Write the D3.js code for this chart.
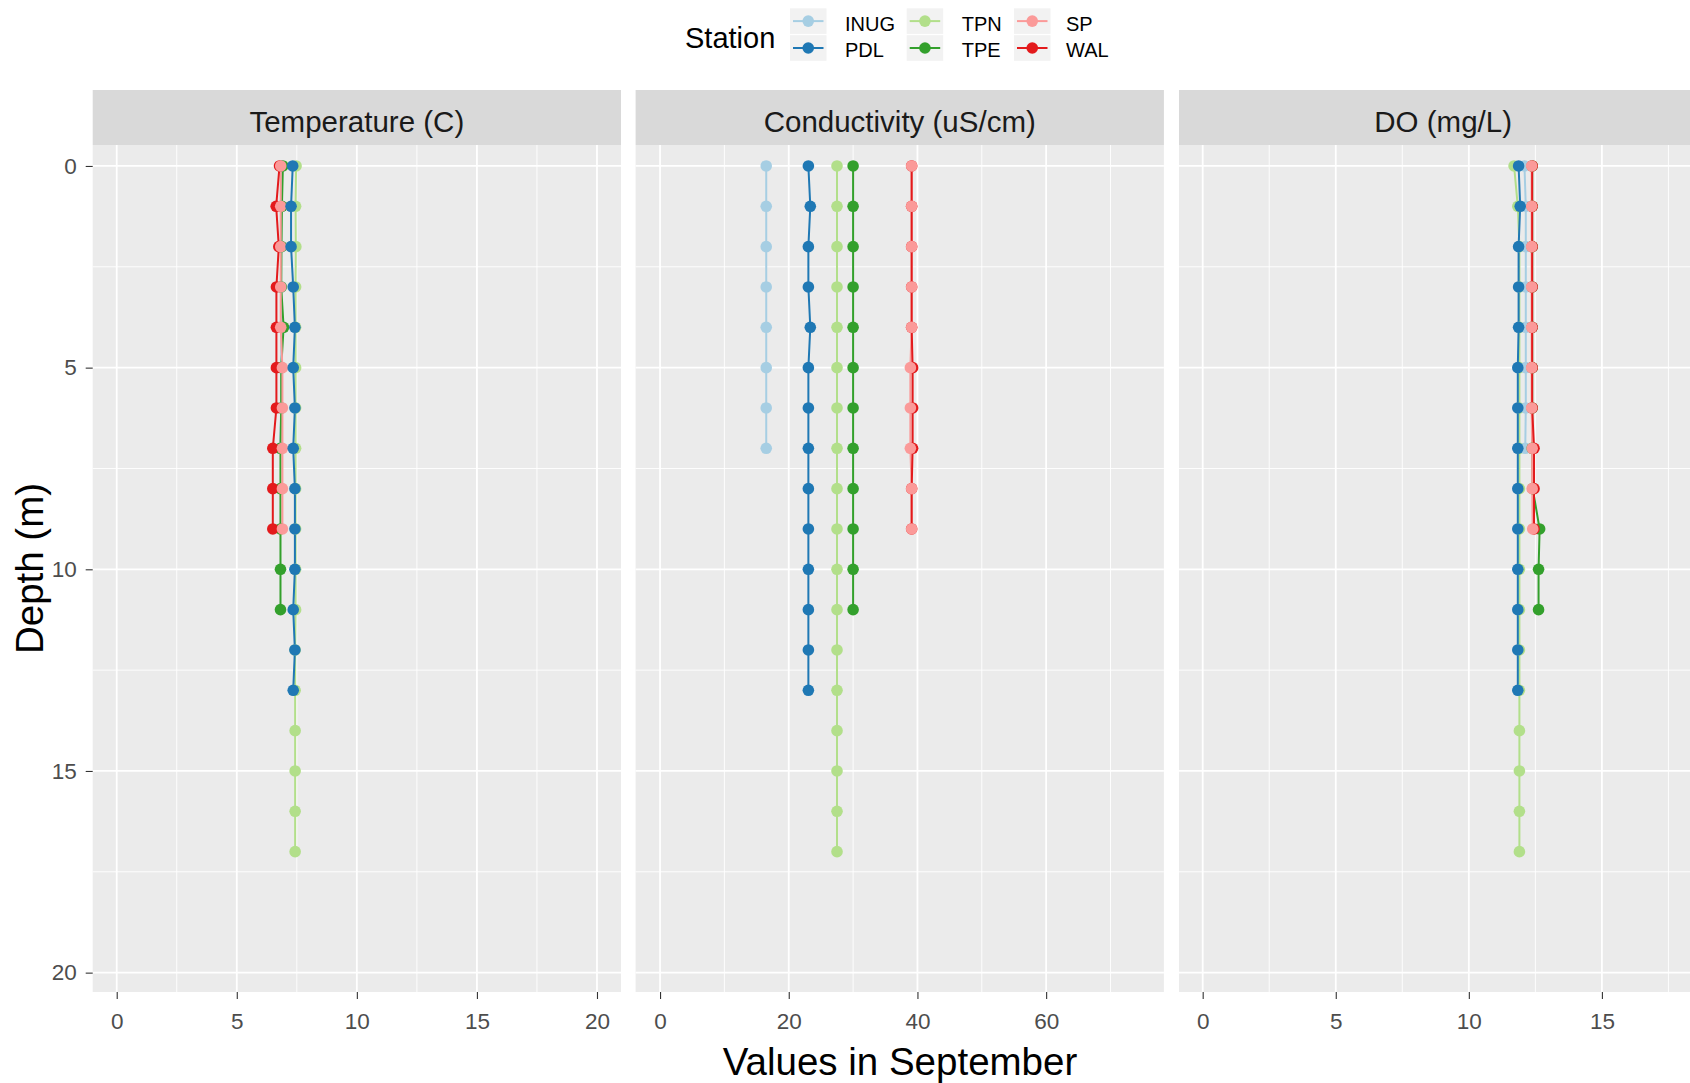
<!DOCTYPE html>
<html>
<head>
<meta charset="utf-8">
<title>Depth profiles - September</title>
<script src="https://d3js.org/d3.v7.min.js"></script>
<style>
  body { margin: 0; background: #fff; }
  text { font-family: "Liberation Sans", Arial, sans-serif; }
</style>
</head>
<body>
<svg id="chart" width="1690" height="1083"></svg>
<script>
// stations in legend order, with the Paired palette
var stations = ["INUG", "PDL", "TPN", "TPE", "SP", "WAL"];
var stationColors = ["#a6cee3", "#1f78b4", "#b2df8a", "#33a02c", "#fb9a99", "#e31a1c"];
var variables = ["Temperature (C)", "Conductivity (uS/cm)", "DO (mg/L)"];

// sampled depths (m) per station
var depthINUG = [0, 1, 2, 3, 4, 5, 6, 7];
var depthPDL  = [0, 1, 2, 3, 4, 5, 6, 7, 8, 9, 10, 11, 12, 13];
var depthTPN  = [0, 1, 2, 3, 4, 5, 6, 7, 8, 9, 10, 11, 12, 13, 14, 15, 16, 17];
var depthTPE  = [0, 1, 2, 3, 4, 5, 6, 7, 8, 9, 10, 11];
var depthSP   = [0, 1, 2, 3, 4, 5, 6, 7, 8, 9];
var depthWAL  = [0, 1, 2, 3, 4, 5, 6, 7, 8, 9];

// temperature (C)
var tempINUG = [6.85, 6.85, 6.85, 6.85, 6.85, 6.85, 6.85, 6.80];
var tempPDL  = [7.33, 7.26, 7.26, 7.35, 7.42, 7.35, 7.42, 7.35, 7.42, 7.42, 7.42, 7.35, 7.42, 7.35];
var tempTPN  = [7.47, 7.45, 7.46, 7.45, 7.45, 7.45, 7.45, 7.45, 7.45, 7.45, 7.45, 7.45, 7.43, 7.43, 7.43, 7.43, 7.43, 7.43];
var tempTPE  = [6.92, 6.88, 6.86, 6.85, 6.95, 6.85, 6.85, 6.82, 6.82, 6.82, 6.82, 6.82];
var tempSP   = [6.83, 6.83, 6.83, 6.83, 6.83, 6.90, 6.90, 6.90, 6.90, 6.90];
var tempWAL  = [6.78, 6.64, 6.75, 6.65, 6.65, 6.65, 6.65, 6.50, 6.50, 6.50];

// conductivity (uS/cm)
var condINUG = [16.5, 16.5, 16.5, 16.5, 16.5, 16.5, 16.5, 16.5];
var condPDL  = [23.05, 23.35, 23.05, 23.05, 23.35, 23.05, 23.05, 23.05, 23.05, 23.05, 23.05, 23.05, 23.05, 23.05];
var condTPN  = [27.5, 27.5, 27.5, 27.5, 27.5, 27.5, 27.5, 27.5, 27.5, 27.5, 27.5, 27.5, 27.5, 27.5, 27.5, 27.5, 27.5, 27.5];
var condTPE  = [30.0, 30.0, 30.0, 30.0, 30.0, 30.0, 30.0, 30.0, 30.0, 30.0, 30.0, 30.0];
var condSP   = [39.1, 39.1, 39.1, 39.1, 39.1, 38.9, 38.9, 38.9, 39.1, 39.1];
var condWAL  = [39.1, 39.1, 39.1, 39.1, 39.1, 39.25, 39.25, 39.25, 39.1, 39.1];

// dissolved oxygen (mg/L)
var doINUG = [12.09, 12.14, 12.14, 12.14, 12.14, 12.14, 12.14, 12.12];
var doPDL  = [11.87, 11.93, 11.87, 11.87, 11.87, 11.84, 11.84, 11.84, 11.84, 11.84, 11.84, 11.84, 11.84, 11.84];
var doTPN  = [11.70, 11.84, 11.90, 11.90, 11.90, 11.90, 11.90, 11.90, 11.90, 11.90, 11.90, 11.90, 11.90, 11.90, 11.90, 11.90, 11.90, 11.90];
var doTPE  = [12.38, 12.38, 12.38, 12.38, 12.38, 12.38, 12.38, 12.38, 12.40, 12.66, 12.62, 12.62];
var doSP   = [12.36, 12.36, 12.36, 12.36, 12.36, 12.36, 12.36, 12.38, 12.38, 12.40];
var doWAL  = [12.38, 12.38, 12.38, 12.38, 12.38, 12.38, 12.38, 12.45, 12.45, 12.45];

// x axis ticks per panel
var xTicks = [[0, 5, 10, 15, 20], [0, 20, 40, 60], [0, 5, 10, 15]];
var xMinor = [[2.5, 7.5, 12.5, 17.5], [10, 30, 50, 70], [2.5, 7.5, 12.5, 17.5]];
var yTicks = [0, 5, 10, 15, 20];
var yMinor = [2.5, 7.5, 12.5, 17.5];

// table used for drawing
var depths = [depthINUG, depthPDL, depthTPN, depthTPE, depthSP, depthWAL];
var values = [
  [tempINUG, tempPDL, tempTPN, tempTPE, tempSP, tempWAL],
  [condINUG, condPDL, condTPN, condTPE, condSP, condWAL],
  [doINUG, doPDL, doTPN, doTPE, doSP, doWAL]
];

// layout
var svg = d3.select("#chart");
var panelLeft = [92.7, 635.6, 1179];
var panelW = 528.3;
var panelTop = 145, panelBottom = 992, stripTop = 90;
var xLimits = [[-1, 21], [-3.8, 78.3], [-0.89, 18.96]];

var y = d3.scaleLinear().domain([-0.52, 20.48]).range([panelTop, panelBottom]);
var color = d3.scaleOrdinal().domain(stations).range(stationColors);

// draw order seen in the picture
var lineOrder = ["TPN", "INUG", "TPE", "SP", "WAL", "PDL"];
var pointOrder = ["TPN", "INUG", "TPE", "WAL", "SP", "PDL"];

svg.append("rect").attr("width", 1690).attr("height", 1083).attr("fill", "#fff");

variables.forEach(function(v, p) {
  var x = d3.scaleLinear().domain(xLimits[p]).range([panelLeft[p], panelLeft[p] + panelW]);
  var g = svg.append("g");

  // strip
  g.append("rect").attr("x", panelLeft[p]).attr("y", stripTop)
    .attr("width", panelW).attr("height", panelTop - stripTop).attr("fill", "#d9d9d9");
  g.append("text").attr("x", panelLeft[p] + panelW / 2).attr("y", 131.7)
    .attr("text-anchor", "middle").attr("font-size", 29.5).attr("fill", "#1a1a1a").text(v);

  // panel background + grid
  g.append("rect").attr("x", panelLeft[p]).attr("y", panelTop)
    .attr("width", panelW).attr("height", panelBottom - panelTop).attr("fill", "#ebebeb");

  g.selectAll(".ymin").data(yMinor).enter().append("line")
    .attr("x1", panelLeft[p]).attr("x2", panelLeft[p] + panelW)
    .attr("y1", y).attr("y2", y).attr("stroke", "#fff").attr("stroke-width", 0.9);
  g.selectAll(".xmin").data(xMinor[p]).enter().append("line")
    .attr("y1", panelTop).attr("y2", panelBottom)
    .attr("x1", x).attr("x2", x).attr("stroke", "#fff").attr("stroke-width", 0.9);
  g.selectAll(".ymaj").data(yTicks).enter().append("line")
    .attr("x1", panelLeft[p]).attr("x2", panelLeft[p] + panelW)
    .attr("y1", y).attr("y2", y).attr("stroke", "#fff").attr("stroke-width", 1.8);
  g.selectAll(".xmaj").data(xTicks[p]).enter().append("line")
    .attr("y1", panelTop).attr("y2", panelBottom)
    .attr("x1", x).attr("x2", x).attr("stroke", "#fff").attr("stroke-width", 1.8);

  var line = d3.line()
    .x(function(d) { return x(d.value); })
    .y(function(d) { return y(d.depth); });

  function seriesFor(name) {
    var s = stations.indexOf(name);
    return depths[s].map(function(dep, i) { return { depth: dep, value: values[p][s][i] }; });
  }

  lineOrder.forEach(function(name) {
    g.append("path").datum(seriesFor(name))
      .attr("d", line).attr("fill", "none")
      .attr("stroke", color(name)).attr("stroke-width", 2);
  });

  pointOrder.forEach(function(name) {
    g.selectAll(null).data(seriesFor(name)).enter().append("circle")
      .attr("cx", function(d) { return x(d.value); })
      .attr("cy", function(d) { return y(d.depth); })
      .attr("r", 5.8).attr("fill", color(name));
  });

  // bottom axis
  var ax = g.append("g").attr("transform", "translate(0," + panelBottom + ")")
    .call(d3.axisBottom(x).tickValues(xTicks[p]).tickSize(7).tickPadding(14));
  ax.select(".domain").remove();
  ax.selectAll(".tick line").attr("stroke", "#333").attr("stroke-width", 1.1);
  ax.selectAll(".tick text").attr("fill", "#4d4d4d").attr("font-size", 22.5)
    .attr("font-family", "Liberation Sans, Arial, sans-serif");

  if (p === 0) {
    var ay = g.append("g").attr("transform", "translate(" + panelLeft[0] + ",0)")
      .call(d3.axisLeft(y).tickValues(yTicks).tickSize(7).tickPadding(9));
    ay.select(".domain").remove();
    ay.selectAll(".tick line").attr("stroke", "#333").attr("stroke-width", 1.1);
    ay.selectAll(".tick text").attr("fill", "#4d4d4d").attr("font-size", 22.5)
      .attr("font-family", "Liberation Sans, Arial, sans-serif");
  }
});

// axis titles
svg.append("text").attr("x", 900).attr("y", 1075).attr("text-anchor", "middle")
  .attr("font-size", 38.5).attr("fill", "#000").text("Values in September");
svg.append("text").attr("transform", "translate(43,568.5) rotate(-90)")
  .attr("text-anchor", "middle").attr("font-size", 38.5).attr("fill", "#000").text("Depth (m)");

// legend
var legend = svg.append("g");
legend.append("text").attr("x", 685).attr("y", 47.7).attr("font-size", 29)
  .attr("fill", "#000").text("Station");

var keyX = [790, 906.7, 1014], labelX = [845, 961.7, 1066];
var keyY = [8.3, 35.2], labelY = [30.7, 57.3];
var keyW = 36.5, keyH = 25.6;

stations.forEach(function(name, i) {
  var c = Math.floor(i / 2), r = i % 2;
  var k = legend.append("g");
  k.append("rect").attr("x", keyX[c]).attr("y", keyY[r]).attr("width", keyW).attr("height", keyH)
    .attr("fill", "#f2f2f2");
  k.append("line").attr("x1", keyX[c] + 3).attr("x2", keyX[c] + keyW - 3)
    .attr("y1", keyY[r] + keyH / 2).attr("y2", keyY[r] + keyH / 2)
    .attr("stroke", color(name)).attr("stroke-width", 2);
  k.append("circle").attr("cx", keyX[c] + keyW / 2).attr("cy", keyY[r] + keyH / 2)
    .attr("r", 5.8).attr("fill", color(name));
  legend.append("text").attr("x", labelX[c]).attr("y", labelY[r]).attr("font-size", 20)
    .attr("fill", "#000").text(name);
});
</script>
</body>
</html>
